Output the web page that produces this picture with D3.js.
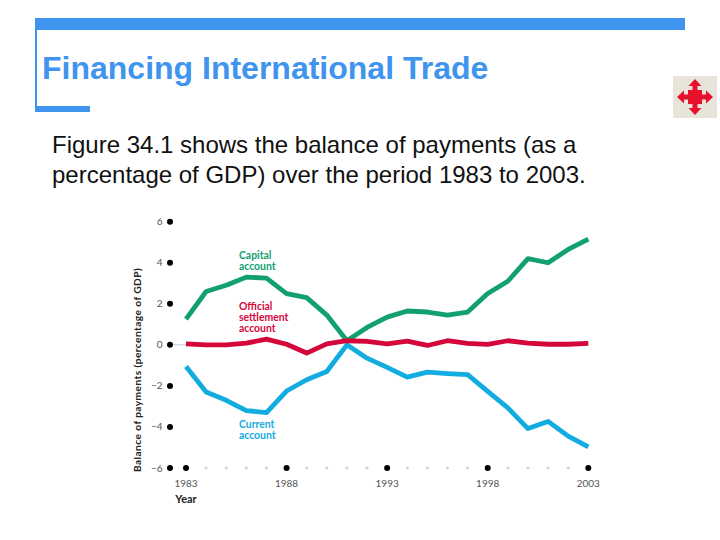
<!DOCTYPE html>
<html><head><meta charset="utf-8">
<script src="https://cdn.jsdelivr.net/npm/d3@7"></script>
<style>html,body{margin:0;padding:0;background:#fff}svg{display:block}</style></head>
<body><svg id="c" width="720" height="540"></svg>
<script>
const years=d3.range(1983,2004);
const capital=[1.25,2.6,2.9,3.3,3.25,2.5,2.3,1.45,0.2,0.85,1.35,1.65,1.6,1.45,1.6,2.5,3.1,4.2,4.0,4.65,5.15];
const current=[-1.05,-2.3,-2.7,-3.2,-3.3,-2.25,-1.7,-1.3,0,-0.65,-1.1,-1.57,-1.33,-1.4,-1.45,-2.27,-3.07,-4.08,-3.73,-4.45,-4.97];
const official=[0.05,0,0,0.08,0.28,0.03,-0.4,0.05,0.2,0.17,0.05,0.18,-0.03,0.2,0.07,0.02,0.2,0.08,0.03,0.03,0.07];
const yTicks=[6,4,2,0,-2,-4,-6];
const xLabelled=[1983,1988,1993,1998,2003];
const titleText="Financing International Trade";
const bodyLines=["Figure 34.1 shows the balance of payments (as a","percentage of GDP) over the period 1983 to 2003."];

const svg=d3.select("#c");
const x=d3.scaleLinear().domain([1983,2003]).range([186,588.3]);
const y=d3.scaleLinear().domain([-6,6]).range([468,221.7]);
const blue="#3f94ee",sans="'Liberation Sans',Arial,sans-serif",chartFont="Lato,sans-serif";

// slide frame
svg.append("rect").attr("x",35).attr("y",18).attr("width",650).attr("height",12).attr("fill",blue);
svg.append("rect").attr("x",35).attr("y",18).attr("width",2).attr("height",89).attr("fill",blue);
svg.append("rect").attr("x",35).attr("y",106).attr("width",55).attr("height",6).attr("fill",blue);
svg.append("text").attr("x",42).attr("y",79).attr("font-family",sans).attr("font-size",32).attr("font-weight",700).attr("fill",blue).text(titleText);
svg.append("g").selectAll("text").data(bodyLines).join("text")
 .attr("x",52).attr("y",(d,i)=>153+i*29.5).attr("font-family",sans).attr("font-size",24).attr("fill","#111").text(d=>d);

// nav button
const nav=svg.append("g").attr("transform","translate(695,97)");
nav.append("rect").attr("x",-22).attr("y",-21).attr("width",44).attr("height",42).attr("fill","#e8e4da");
nav.append("rect").attr("x",-7).attr("y",-7).attr("width",14).attr("height",14).attr("fill","#e8112d");
[0,90,180,270].forEach(a=>nav.append("path").attr("transform",`rotate(${a})`).attr("fill","#e8112d")
 .attr("d","M-2.5,-6V-11H-6.5L0,-18L6.5,-11H2.5V-6Z"));

// zero line
svg.append("line").attr("x1",x(1983)-16).attr("x2",x(1983)).attr("y1",y(0)).attr("y2",y(0)).attr("stroke","#c4c4cc").attr("stroke-width",1);

// y axis
const yAxisX=170;
svg.append("g").selectAll("circle").data(yTicks).join("circle").attr("cx",yAxisX).attr("cy",d=>y(d)).attr("r",3).attr("fill","#000");
svg.append("g").selectAll("text").data(yTicks).join("text").attr("x",yAxisX-7.5).attr("y",d=>y(d)+3.5)
 .attr("text-anchor","end").attr("font-family",chartFont).attr("font-size",10).attr("fill","#555").text(d=>d<0?"\u2212"+(-d):d);
svg.append("text").attr("transform",`translate(140.5,370) rotate(-90)`).attr("text-anchor","middle")
 .attr("font-family",chartFont).attr("font-weight",700).attr("font-size",10.2).attr("letter-spacing",0.42).attr("fill","#222").text("Balance of payments (percentage of GDP)");

// x axis
svg.append("g").selectAll("circle").data(years).join("circle").attr("cx",d=>x(d)).attr("cy",y(-6))
 .attr("r",d=>xLabelled.includes(d)?3:1.6).attr("fill",d=>xLabelled.includes(d)?"#000":"#d4d4d4");
svg.append("g").selectAll("text").data(xLabelled).join("text").attr("x",d=>x(d)).attr("y",486.5)
 .attr("text-anchor","middle").attr("font-family",chartFont).attr("font-size",10).attr("fill","#555").text(d=>d);
svg.append("text").attr("x",x(1983)).attr("y",503).attr("text-anchor","middle").attr("font-family",chartFont).attr("font-weight",700).attr("font-size",11).attr("fill","#222").text("Year");

// series
const line=d3.line().x((d,i)=>x(years[i])).y(d=>y(d));
[[capital,"#12a06e"],[current,"#12ace0"],[official,"#d4063a"]].forEach(([s,c])=>
 svg.append("path").attr("d",line(s)).attr("fill","none").attr("stroke",c).attr("stroke-width",4.8).attr("stroke-linejoin","round"));

// labels
const notes=[[["Capital","account"],256,"#12a06e"],[["Official","settlement","account"],307,"#d4063a"],[["Current","account"],425,"#12ace0"]];
notes.forEach(([ls,y0,c])=>svg.append("g").selectAll("text").data(ls).join("text").attr("x",239).attr("y",(d,i)=>y0+3+i*11.2)
 .attr("font-family",chartFont).attr("font-weight",700).attr("font-size",10.4).attr("fill",c).text(d=>d));
</script></body></html>
